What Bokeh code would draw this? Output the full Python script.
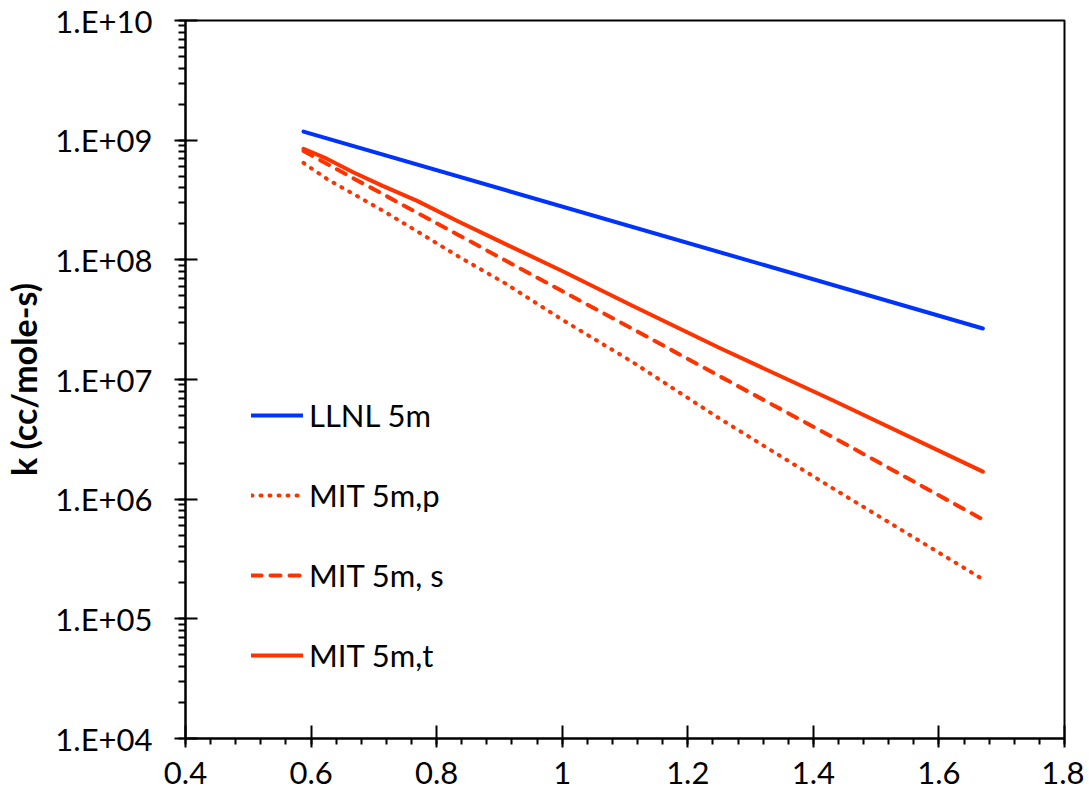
from bokeh.plotting import figure
from bokeh.embed import file_html
from bokeh.resources import INLINE
from bokeh.models import (FixedTicker, LogTicker, CustomJSTickFormatter, Legend, LegendItem,
                          Range1d)

# ---- data ----
x_llnl = [0.588, 1.670]
k_llnl = [1.18e9, 2.67e7]

x_mit = [0.588, 0.625, 0.667, 0.714, 0.769, 0.833, 0.909, 1.000, 1.111, 1.250, 1.429, 1.670]
k_mit_p = [6.45e8, 4.75e8, 3.56e8, 2.58e8, 1.73e8, 1.08e8, 6.37e7, 3.16e7, 1.41e7, 4.74e6, 1.25e6, 2.14e5]
k_mit_s = [8.11e8, 6.35e8, 4.81e8, 3.55e8, 2.47e8, 1.63e8, 9.91e7, 5.48e7, 2.67e7, 1.07e7, 3.34e6, 6.76e5]
k_mit_t = [8.47e8, 7.0e8, 5.40e8, 4.15e8, 3.11e8, 2.11e8, 1.36e8, 8.07e7, 4.15e7, 1.84e7, 6.78e6, 1.70e6]

series_names = ["LLNL 5m", "MIT 5m,p", "MIT 5m, s", "MIT 5m,t"]
x_ticks = [0.4, 0.6, 0.8, 1.0, 1.2, 1.4, 1.6, 1.8]
y_label = "k (cc/mole-s)"

BLUE = "#0033FF"
RED = "#FF3300"
FONT = "Lato"

p = figure(frame_width=879, frame_height=718, y_axis_type="log",
           x_range=Range1d(0.4, 1.8), y_range=Range1d(1e4, 1e10),
           output_backend="svg", toolbar_location=None,
           min_border_left=178, min_border_top=20, min_border_right=20, min_border_bottom=56)
p.background_fill_color = "white"
p.border_fill_color = "white"
p.outline_line_color = "black"
p.outline_line_width = 2
p.xgrid.visible = False
p.ygrid.visible = False

r_llnl = p.line(x_llnl, k_llnl, line_color=BLUE, line_width=4, line_cap="round")
r_p = p.line(x_mit, k_mit_p, line_color=RED, line_width=4, line_cap="round", line_dash="1 8")
r_s = p.line(x_mit, k_mit_s, line_color=RED, line_width=4, line_cap="round", line_dash="10 9")
r_t = p.line(x_mit, k_mit_t, line_color=RED, line_width=4, line_cap="round", line_join="round")

# axes
xa = p.xaxis[0]
xa.ticker = FixedTicker(ticks=x_ticks,
                        minor_ticks=[round(0.4 + 0.04 * i, 2) for i in range(36)])
xa.formatter = CustomJSTickFormatter(code="var s = tick.toFixed(1); return s.endsWith('.0') ? s.slice(0, -2) : s;")
ya = p.yaxis[0]
ya.ticker = LogTicker(num_minor_ticks=10)
ya.formatter = CustomJSTickFormatter(code="var e = Math.round(Math.log10(tick)); var s = String(Math.abs(e)); if (s.length < 2) s = '0' + s; return '1.E' + (e < 0 ? '-' : '+') + s;")

for ax in (xa, ya):
    ax.axis_line_color = "black"
    ax.axis_line_width = 2
    ax.major_tick_line_color = "black"
    ax.major_tick_line_width = 2
    ax.minor_tick_line_color = "black"
    ax.minor_tick_line_width = 2
    ax.major_label_text_font = FONT
    ax.major_label_text_font_size = "31px"
    ax.major_label_text_color = "black"

xa.major_tick_in = 13
xa.major_tick_out = 9
xa.minor_tick_in = 0
xa.minor_tick_out = 6
xa.major_label_standoff = 14

ya.major_tick_in = 12
ya.major_tick_out = 11
ya.minor_tick_in = 0
ya.minor_tick_out = 7
ya.major_label_standoff = 22

ya.axis_label = y_label
ya.axis_label_text_font = FONT
ya.axis_label_text_font_style = "bold"
ya.axis_label_text_font_size = "34px"
ya.axis_label_text_color = "black"
ya.axis_label_standoff = 8

legend = Legend(items=[LegendItem(label=series_names[0], renderers=[r_llnl]),
                       LegendItem(label=series_names[1], renderers=[r_p]),
                       LegendItem(label=series_names[2], renderers=[r_s]),
                       LegendItem(label=series_names[3], renderers=[r_t])],
                location=(66, 63), orientation="vertical",
                glyph_width=52, glyph_height=40, label_height=40, spacing=40,
                label_standoff=6, padding=0, margin=0,
                border_line_alpha=0, background_fill_alpha=0,
                label_text_font=FONT, label_text_font_size="31px", label_text_color="black")
p.add_layout(legend, "center")

open("out.html", "w").write(file_html(p, INLINE))
